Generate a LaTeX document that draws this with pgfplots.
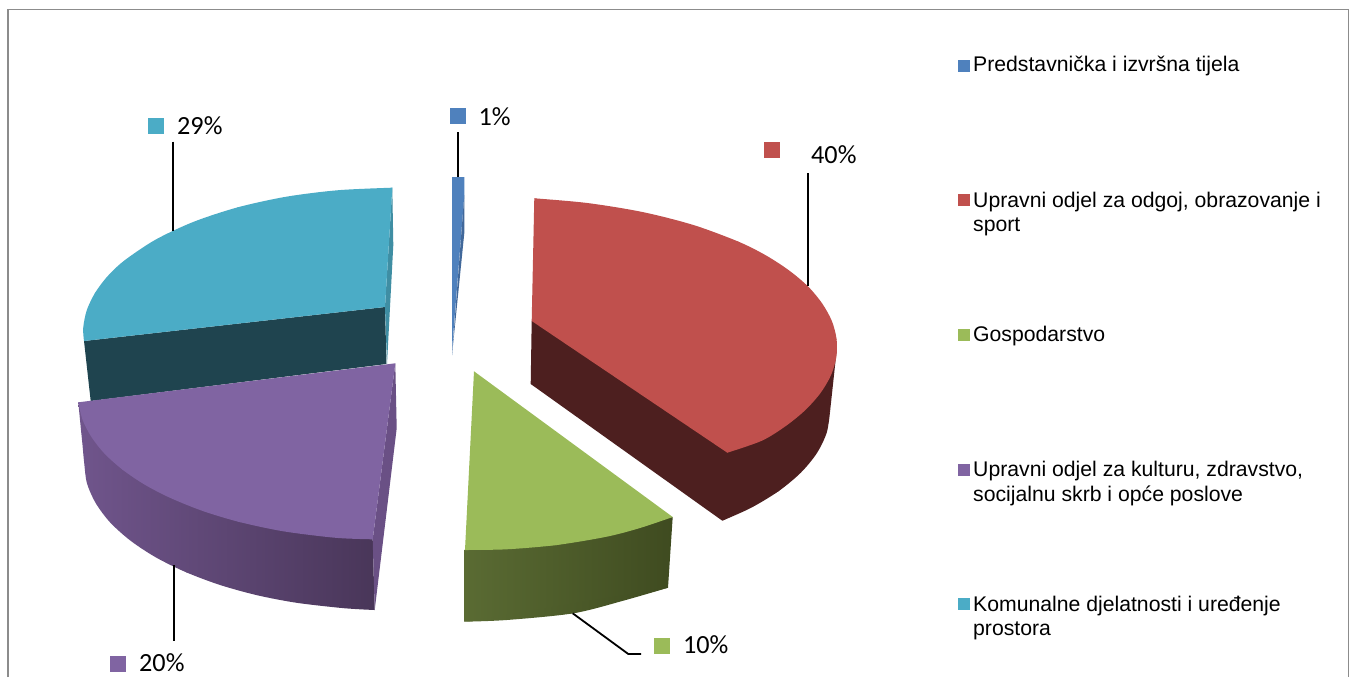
\documentclass[border=0pt]{standalone}
\usepackage{fontspec}
\setmainfont{Liberation Sans}
\newfontfamily\calib{Carlito}
\usepackage{pgfplots}
\pgfplotsset{compat=1.18}

\definecolor{cblue}{HTML}{4F81BD}
\definecolor{cbluedk}{HTML}{41689A}
\definecolor{cred}{HTML}{C0504D}
\definecolor{creddk}{HTML}{4D1F1F}
\definecolor{cgreen}{HTML}{9BBB59}
\definecolor{cgreenL}{HTML}{5A6B33}
\definecolor{cgreenM}{HTML}{3F4B20}
\definecolor{cpurple}{HTML}{8064A2}
\definecolor{cpurpleS}{HTML}{6A5085}
\definecolor{cpurpleL}{HTML}{70558C}
\definecolor{cpurpleR}{HTML}{493659}
\definecolor{cteal}{HTML}{4BACC6}
\definecolor{ctealS}{HTML}{3F8EA3}
\definecolor{ctealdk}{HTML}{1F444F}
\definecolor{frame}{HTML}{8C8C8C}

\pgfplotsset{
  poly/.style={draw=none,fill=#1,no marks,forget plot},
  arc/.style={draw=none,fill=#1,no marks,smooth,forget plot},
  leader/.style={black,line width=1.8pt,no marks,forget plot},
  key/.style={only marks,mark=square*,mark size=7.5pt,color=#1,forget plot},
  lkey/.style={only marks,mark=square*,mark size=5.6pt,color=#1,forget plot},
}
\newcommand{\lab}[2]{\node[anchor=base west,inner sep=0pt,font=\fontsize{26.2}{30}\calib] at (axis cs:#1) {#2};}
\newcommand{\leg}[2]{\node[anchor=base west,inner sep=0pt,font=\fontsize{21.2}{24}\selectfont] at (axis cs:#1) {#2};}

\begin{document}
\begin{tikzpicture}
\begin{axis}[
  scale only axis,width=1350pt,height=677pt,
  xmin=0,xmax=1350,ymin=0,ymax=677,y dir=reverse,
  hide axis,clip=false,
]
% page background and frame
\addplot[poly=white] coordinates {(0,0)(1350,0)(1350,677)(0,677)} --cycle;
\addplot[frame,line width=1.8pt,no marks,forget plot] coordinates {(8,677)(8,9.5)(1348.5,9.5)(1348.5,677)};

% teal slice
\addplot[poly=ctealdk] coordinates {(385,307)(386.5,364)(90.7,401)(84,341)} --cycle;
\addplot[poly=ctealS] coordinates {(392.3,187.7)(393.3,245)(387,364)(385,307)} --cycle;
\addplot[poly=cteal] coordinates {(392.3,187.7)(237.5,207.4)(95,293)(84,341)(385,307)} --cycle;
\addplot[arc=cteal] coordinates {(392.3,187.7)(338.3,190.2)(286.3,196.7)(237.5,207.4)(193.4,221.9)(155.3,239.8)(124.4,260.5)(107.5,276.3)(95,293)(86.7,310.4)(83.2,328)(84,341)} --cycle;

% blue sliver
\addplot[poly=cblue] coordinates {(452,177)(464.3,177)(464.3,195)(452.8,340)(452,355)} --cycle;
\addplot[poly=cbluedk] coordinates {(464.3,195)(464.3,233)(453,345)(452,355)} --cycle;

% red slice
\addplot[poly=creddk] coordinates {(531.7,321)(530.7,384)(722.3,520.7)(778.8,491)(830,412)(836.7,350)(760,300)} --cycle;
\addplot[arc=creddk] coordinates {(830,412)(826.7,432.7)(816.9,453.1)(800.9,472.6)(778.8,491)(751.1,507.8)(722.3,520.7)} --cycle;
\addplot[poly=cred] coordinates {(534.3,198.3)(738.3,241.6)(836.6,339.2)(727.3,452.7)(531.7,321)} --cycle;
\addplot[arc=cred] coordinates {(534.3,198.3)(587.3,203)(642.4,212)(693.4,225)(738.3,241.6)(765.6,255.2)(788.9,270.3)(808,286.4)(822.2,303.5)(831.9,321.1)(836.6,339.2)(836.3,357.4)(830.9,375.4)(820.5,393)(805.4,410)(785.8,426)(761.9,440.7)(727.3,452.7)} --cycle;

% green slice
\addplot[draw=none,no marks,forget plot,left color=cgreenL,middle color=cgreenM,right color=cgreenM] coordinates {(464,550)(672.7,517)(668,587.7)(573.3,613.3)(464,621.7)} --cycle;
\addplot[draw=none,no marks,smooth,forget plot,left color=cgreenL,middle color=cgreenM,right color=cgreenM] coordinates {(464,621.7)(506.7,620)(573.3,613.3)(623.3,600.7)(668,587.7)} --cycle;
\addplot[poly=cgreen] coordinates {(474,371.3)(672.7,517)(556.7,545)(465,550)} --cycle;
\addplot[arc=cgreen] coordinates {(672.7,517)(640,528)(606.7,536.7)(556.7,545)(506.7,549.3)(465,550)} --cycle;

% purple slice
\addplot[draw=none,no marks,forget plot,left color=cpurpleL,right color=cpurpleR] coordinates {(78.3,402.3)(186,572.2)(374.7,610)(372.7,539.3)} --cycle;
\addplot[draw=none,no marks,smooth,forget plot,left color=cpurpleL,right color=cpurpleR] coordinates {(78.3,402.3)(80.5,425)(82.5,445)(84.2,463)(87,483.4)(96,503.6)(110.5,522.8)(130.8,540.9)(156.1,557.5)(186,572.2)(219.8,584.9)(257,595.2)(296.8,602.8)(344,608.2)(374.7,610)} --cycle;
\addplot[poly=cpurpleS] coordinates {(395.3,363.3)(396.7,428.3)(374.7,610)(372.7,539.3)} --cycle;
\addplot[poly=cpurple] coordinates {(395.3,363.3)(78.3,402.3)(122.6,469.7)(238.7,521.8)(372.7,539.3)} --cycle;
\addplot[arc=cpurple] coordinates {(78.3,402.3)(82.7,420.2)(91.7,437.4)(104.9,454)(122.6,469.7)(144.1,484.3)(169.4,497.5)(202.2,510.8)(238.7,521.8)(283.3,531.3)(335.7,537.8)(372.7,539.3)} --cycle;

% leader lines
\addplot[leader] coordinates {(173,141.5)(173,231)};
\addplot[leader] coordinates {(458,132)(458,177)};
\addplot[leader] coordinates {(808.3,173)(808.3,286)};
\addplot[leader] coordinates {(173.7,565)(173.7,640.7)};
\addplot[leader] coordinates {(572.7,613.3)(628.3,654)(641,654)};

% data labels
\addplot[key=cblue] coordinates {(457.5,115.5)};
\addplot[key=cred] coordinates {(771.5,149.5)};
\addplot[key=cgreen] coordinates {(661.5,645.5)};
\addplot[key=cpurple] coordinates {(117.5,663.5)};
\addplot[key=cteal] coordinates {(155.5,125.5)};
\lab{478.5,125}{1\%}
\lab{811,163.3}{40\%}
\lab{682.8,653.3}{10\%}
\lab{139,671.7}{20\%}
\lab{177,134}{29\%}

% legend
\addplot[lkey=cblue] coordinates {(963.5,65.5)};
\addplot[lkey=cred] coordinates {(963.5,199.5)};
\addplot[lkey=cgreen] coordinates {(963.5,334.5)};
\addplot[lkey=cpurple] coordinates {(963.5,469.5)};
\addplot[lkey=cteal] coordinates {(963.5,603.5)};
\leg{973,71.7}{Predstavnička i izvršna tijela}
\leg{973,207.3}{Upravni odjel za odgoj, obrazovanje i}
\leg{973,231}{sport}
\leg{973,341}{Gospodarstvo}
\leg{973,476}{Upravni odjel za kulturu, zdravstvo,}
\leg{973,501}{socijalnu skrb i opće poslove}
\leg{973,611}{Komunalne djelatnosti i uređenje}
\leg{973,635}{prostora}
\end{axis}
\end{tikzpicture}
\end{document}
